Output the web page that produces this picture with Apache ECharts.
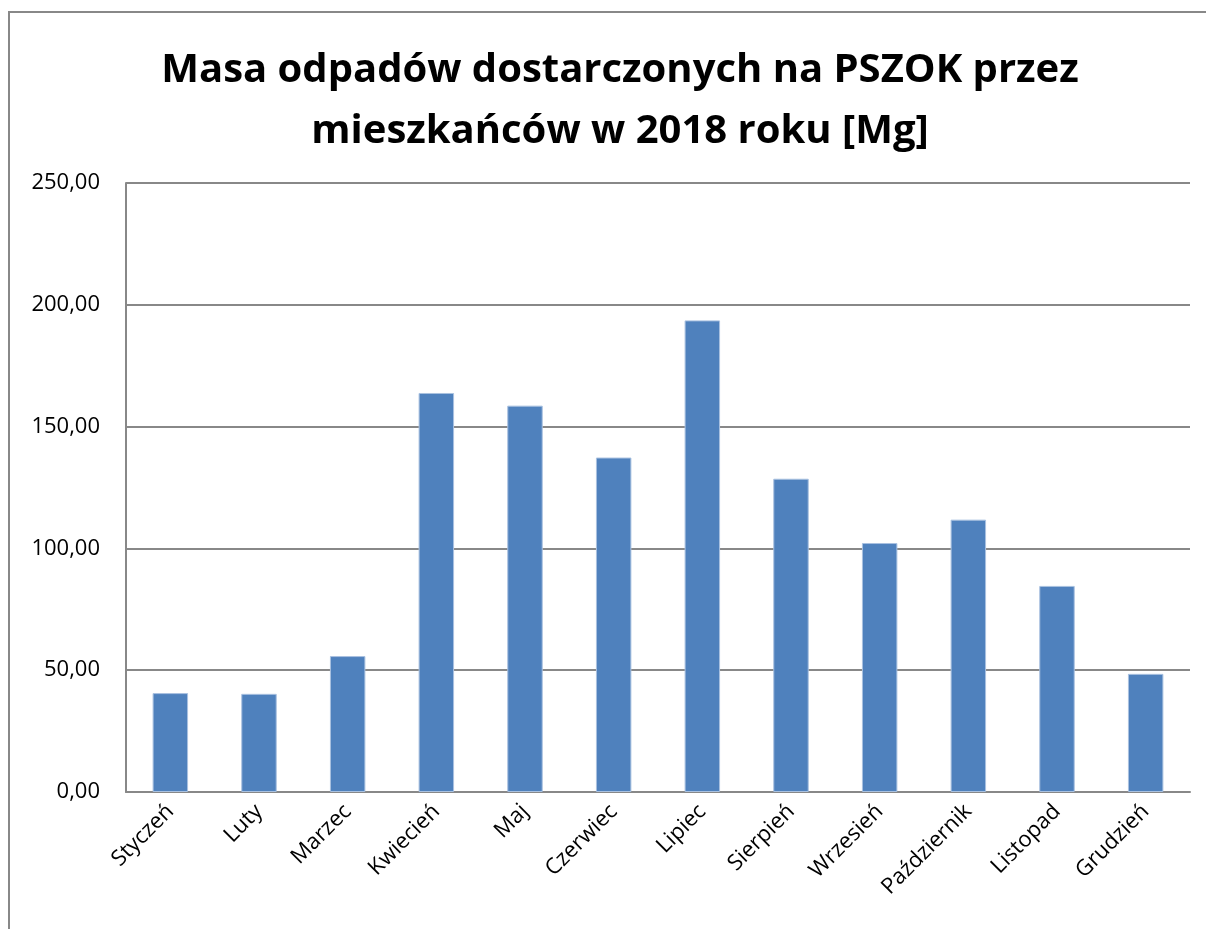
<!DOCTYPE html>
<html>
<head>
<meta charset="utf-8">
<script src="https://cdn.jsdelivr.net/npm/echarts@6/dist/echarts.min.js"></script>
<style>
  html, body { margin: 0; padding: 0; background: #fff; }
  #chart { width: 1206px; height: 929px; }
</style>
</head>
<body>
<div id="chart"></div>
<script>
const titleText = "Masa odpadów dostarczonych na PSZOK przez\nmieszkańców w 2018 roku [Mg]";

const months = [
  "Styczeń", "Luty", "Marzec", "Kwiecień", "Maj", "Czerwiec",
  "Lipiec", "Sierpień", "Wrzesień", "Październik", "Listopad", "Grudzień",
];

const massMg = [40.6, 40.3, 55.8, 163.8, 158.6, 137.3, 193.6, 128.6, 102.2, 111.8, 84.6, 48.5];

const yTicks = { min: 0, max: 250, step: 50 };

const chart = echarts.init(document.getElementById("chart"), null, { renderer: "canvas" });

const fontFamily = "'Open Sans', 'Noto Sans', sans-serif";
const lineGrey = "#888888";

chart.setOption({
  backgroundColor: "#fff",
  animation: false,
  textStyle: { fontFamily },
  graphic: [
    {
      type: "rect",
      shape: { x: 9, y: 12, width: 1220, height: 940 },
      style: { fill: "none", stroke: lineGrey, lineWidth: 2 },
      silent: true,
    },
  ],
  title: {
    text: titleText,
    left: 615,
    textAlign: "center",
    top: 35,
    textStyle: {
      fontFamily,
      fontWeight: "bold",
      fontSize: 40,
      lineHeight: 61,
      color: "#000",
    },
  },
  grid: { left: 126, right: 16, top: 183, bottom: 137 },
  xAxis: {
    type: "category",
    data: months,
    axisLine: { show: true, lineStyle: { color: lineGrey, width: 2 } },
    axisTick: { show: false },
    axisLabel: {
      interval: 0,
      rotate: 45,
      margin: 16,
      fontSize: 22,
      color: "#000",
      fontFamily,
    },
  },
  yAxis: {
    type: "value",
    min: yTicks.min,
    max: yTicks.max,
    interval: yTicks.step,
    axisLine: { show: true, lineStyle: { color: lineGrey, width: 2 } },
    axisTick: { show: false },
    splitLine: { show: true, lineStyle: { color: lineGrey, width: 2 } },
    axisLabel: {
      fontSize: 22,
      color: "#000",
      margin: 26,
      fontFamily,
      formatter: (v) => v.toFixed(2).replace(".", ","),
    },
  },
  series: [
    {
      type: "bar",
      data: massMg,
      barWidth: "40%",
      itemStyle: {
        color: "#4F81BD",
        borderColor: "#A9C1E0",
        borderWidth: 1,
      },
    },
  ],
});
</script>
</body>
</html>
